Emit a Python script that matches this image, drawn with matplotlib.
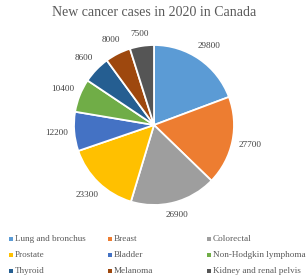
import matplotlib.pyplot as plt
from matplotlib.patches import Rectangle
import numpy as np

# Cancer types and new case counts (2020, Canada)
cancer_types = ['Lung and bronchus', 'Breast', 'Colorectal',
                'Prostate', 'Bladder', 'Non-Hodgkin lymphoma',
                'Thyroid', 'Melanoma', 'Kidney and renal pelvis']
new_cases = [29800, 27700, 26900, 23300, 12200, 10400, 8600, 8000, 7500]
colors = ['#5B9BD5', '#ED7D31', '#9E9E9E', '#FFC000', '#4472C4',
          '#70AD47', '#255E91', '#9E480E', '#555555']

plt.rcParams['font.family'] = ['Liberation Serif', 'DejaVu Serif']

W, H = 308, 279
fig = plt.figure(figsize=(W / 100, H / 100), dpi=100)
fig.patch.set_facecolor('white')

# pie centre (154, 125) px, radius ~80 px
cx, cy, r = 154, 125, 80
ax = fig.add_axes([(cx - r) / W, (H - cy - r) / H, 2 * r / W, 2 * r / H])
wedges, _ = ax.pie(new_cases, colors=colors, startangle=90, counterclock=False,
                   wedgeprops=dict(edgecolor='white', linewidth=1.3))
ax.set_xlim(-1, 1)
ax.set_ylim(-1, 1)
ax.set_aspect('auto')

# value labels outside the slices (text box edge kept a fixed gap from the pie)
total = sum(new_cases)
cum = 0
for v in new_cases:
    mid = (cum + v / 2) / total * 2 * np.pi
    cum += v
    sx, cyy = np.sin(mid), np.cos(mid)
    d = 1.08 + (11 * abs(sx) + 4 * abs(cyy)) / r
    ax.text(d * sx, d * cyy, str(v), ha='center', va='center',
            fontsize=6.6, color='#404040')

fig.text(0.5, 1 - 12 / H, 'New cancer cases in 2020 in Canada', ha='center', va='center',
         fontsize=10, color='#595959')

# legend, 3 equal columns like Excel
col_x = [11, 110, 209]
row_y = [239, 255, 271]
for i, (name, c) in enumerate(zip(cancer_types, colors)):
    x = col_x[i % 3]
    y = row_y[i // 3]
    s = 3.5
    fig.add_artist(Rectangle(((x - s / 2) / W, (H - y - s / 2) / H), s / W, s / H,
                             transform=fig.transFigure, facecolor=c, edgecolor='none'))
    fig.text((x + 4) / W, (H - y) / H, name, ha='left', va='center',
             fontsize=6.6, color='#595959')

fig.savefig('out.png', dpi=100)
